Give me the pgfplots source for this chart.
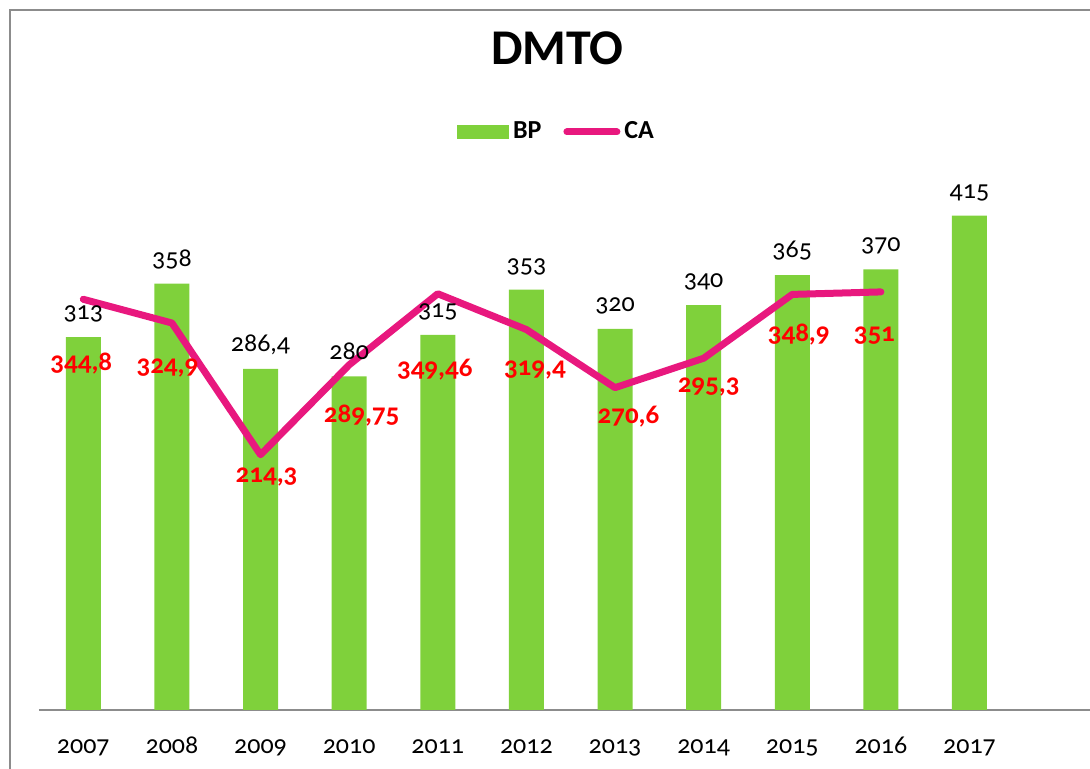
\documentclass[border=0pt]{standalone}
\usepackage{pgfplots}
\pgfplotsset{compat=1.18}
\usepackage{pgfplotstable}
\usepackage{fontspec}
\setmainfont{Carlito}[Numbers=OldStyle]
\definecolor{bpgreen}{RGB}{127,209,59}
\definecolor{capink}{RGB}{232,24,126}
\definecolor{framegray}{RGB}{140,140,140}
\definecolor{labred}{RGB}{255,0,0}

\pgfplotstableread{
x y lab
0 313 313
1 358 358
2 286.4 286,4
3 280 280
4 315 315
5 353 353
6 320 320
7 340 340
8 365 365
9 370 370
10 415 415
}\bpdata

\pgfplotstableread{
x y lab dx dy
0 344.8 344,8 -1 32.5
1 324.9 324,9 -2.25 22
2 214.3 214,3 3 10.5
3 289.75 289,75 6.25 25.5
4 349.46 349,46 -1.5 38
5 319.4 319,4 4.25 20
6 270.6 270,6 6.75 15
7 295.3 295,3 2.5 14
8 348.9 348,9 3.25 20.25
9 351 351 -3.25 21.5
}\cadata

\begin{document}
\begin{tikzpicture}
\path[use as bounding box] (0,0) rectangle (545pt,384.5pt);
\draw[framegray, line width=1pt] (4.85pt,0pt) -- (4.85pt,379.5pt) -- (545pt,379.5pt);
\begin{axis}[
  at={(19.5pt,29.5pt)}, anchor=south west,
  scale only axis, width=525.5pt, height=268pt,
  xmin=-0.5, xmax=11.36, ymin=0, ymax=450,
  axis x line*=bottom, axis y line=none,
  x axis line style={draw=framegray, line width=0.8pt, -},
  xtick={0,...,10},
  xticklabels={2007,2008,2009,2010,2011,2012,2013,2014,2015,2016,2017},
  major tick length=0pt,
  /pgf/number format/assume math mode=true,
  xticklabel style={anchor=base, inner sep=0pt, yshift=-22pt, font=\fontsize{13}{15}\selectfont},
  clip=false,
  title={DMTO},
  title style={at={(0.4933,1.2127)}, anchor=center, inner sep=0pt,
    font=\bfseries\fontsize{25}{30}\selectfont},
  legend style={draw=none, fill=none, at={(0.4933,1.0784)}, anchor=center,
    legend columns=2, font=\bfseries\fontsize{13}{15}\selectfont,
    /tikz/every even column/.append style={column sep=9pt}},
  legend cell align=left,
]
\addplot[ybar, bar width=17.5pt, bar shift=0pt, fill=bpgreen, draw=none,
  point meta=explicit symbolic, nodes near coords,
  every node near coord/.append style={anchor=south, inner sep=0pt,
    text height=6pt, text depth=0pt, yshift=8.5pt, text=black,
    font=\fontsize{13}{15}\selectfont},
  legend image code/.code={\fill[bpgreen] (0pt,-3.5pt) rectangle (26pt,3.5pt);}
] table[x=x, y=y, meta=lab] {\bpdata};
\addlegendentry{BP}
\addplot[capink, line width=3.5pt, line cap=round, line join=round, mark=none,
  point meta=explicit symbolic, nodes near coords,
  visualization depends on={\thisrow{dx} \as \mydx},
  visualization depends on={\thisrow{dy} \as \mydy},
  every node near coord/.append style={anchor=center, inner sep=0pt,
    text height=6.3pt, text depth=0pt, xshift=\mydx pt, yshift=-\mydy pt,
    text=labred, font=\bfseries\fontsize{13.5}{16}\selectfont},
  legend image code/.code={\draw[capink, line width=3.5pt, line cap=round] (0pt,0pt) -- (25pt,0pt);}
] table[x=x, y=y, meta=lab] {\cadata};
\addlegendentry{CA}
\end{axis}
\end{tikzpicture}
\end{document}
